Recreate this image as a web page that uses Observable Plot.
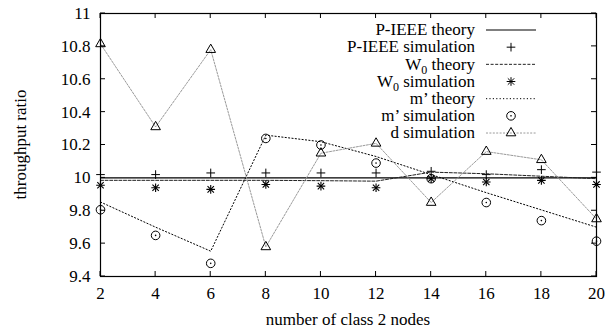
<!DOCTYPE html>
<html>
<head>
<meta charset="utf-8">
<script src="https://cdn.jsdelivr.net/npm/d3@7"></script>
<script src="https://cdn.jsdelivr.net/npm/@observablehq/plot@0.6"></script>
<style>
  html, body { margin: 0; padding: 0; background: white; }
  #chart { width: 614px; height: 333px; }
</style>
</head>
<body>
<div id="chart"></div>
<script>
// ---- data ----
const nodes = [2, 4, 6, 8, 10, 12, 14, 16, 18, 20];
const pieeeTheory = [10.0, 10.0, 10.0, 10.0, 10.0, 10.0, 10.0, 10.0, 10.0, 10.0];
const pieeeSim    = [10.02, 10.02, 10.03, 10.03, 10.03, 10.03, 10.04, 10.02, 10.05, 10.035];
const w0Theory    = [9.985, 9.985, 9.985, 9.985, 9.983, 9.98, 10.035, 10.025, 10.01, 9.995];
const w0Sim       = [9.955, 9.94, 9.93, 9.96, 9.95, 9.94, 9.995, 9.975, 9.985, 9.96];
const mTheory     = [9.853, 9.70, 9.554, 10.26, 10.22, 10.13, 10.02, 9.91, 9.805, 9.70];
const mSim        = [9.806, 9.65, 9.48, 10.24, 10.20, 10.09, 9.995, 9.85, 9.74, 9.615];
const dSim        = [10.815, 10.31, 10.78, 9.58, 10.15, 10.21, 9.85, 10.16, 10.11, 9.75];

const xTicks = [2, 4, 6, 8, 10, 12, 14, 16, 18, 20];
const yTicks = [9.4, 9.6, 9.8, 10, 10.2, 10.4, 10.6, 10.8, 11];
const xTitle = "number of class 2 nodes";
const yTitle = "throughput ratio";
const legendLabels = ["P-IEEE theory", "P-IEEE simulation", "W0 theory", "W0 simulation", "m’ theory", "m’ simulation", "d simulation"];

const rows = (ys) => nodes.map((x, i) => ({x, y: ys[i]}));

const FAM = "Liberation Serif";

const styles = {
  pieee: {stroke: "#000", strokeWidth: 1.2},
  w0: {stroke: "#222", strokeWidth: 1, strokeDasharray: "3,1.6"},
  m: {stroke: "#000", strokeWidth: 1, strokeDasharray: "1.2,2.2"},
  d: {stroke: "#9a9a9a", strokeWidth: 1, strokeDasharray: "2,1.4"}
};

const plot = Plot.plot({
  width: 614,
  height: 333,
  marginLeft: 100,
  marginRight: 18,
  marginTop: 13,
  marginBottom: 57,
  style: {fontSize: "17px", background: "white", color: "black"},
  x: {domain: [2, 20], ticks: xTicks, tickSize: 0, tickPadding: 10, label: null, tickFormat: d => String(d)},
  y: {domain: [9.4, 11], ticks: yTicks, tickSize: 0, tickPadding: 10, label: null, tickFormat: d => String(+d.toFixed(1))},
  marks: [
    Plot.line(rows(pieeeTheory), {x: "x", y: "y", ...styles.pieee}),
    Plot.dot(rows(pieeeSim), {x: "x", y: "y", symbol: "plus", r: 2.9, stroke: "#000", strokeWidth: 1}),
    Plot.line(rows(w0Theory), {x: "x", y: "y", ...styles.w0}),
    Plot.dot(rows(w0Sim), {x: "x", y: "y", symbol: "plus", r: 2.9, stroke: "#000", strokeWidth: 1.1}),
    Plot.dot(rows(w0Sim), {x: "x", y: "y", symbol: "times", r: 3.0, stroke: "#000", strokeWidth: 1.1}),
    Plot.line(rows(mTheory), {x: "x", y: "y", ...styles.m}),
    Plot.dot(rows(mSim), {x: "x", y: "y", symbol: "circle", r: 4.3, stroke: "#000", strokeWidth: 1, fill: "none"}),
    Plot.dot(rows(mSim), {x: "x", y: "y", symbol: "circle", r: 0.8, fill: "#000", stroke: "none"}),
    Plot.line(rows(dSim), {x: "x", y: "y", ...styles.d}),
    Plot.dot(rows(dSim), {x: "x", y: "y", symbol: "triangle2", r: 4.6, stroke: "#000", strokeWidth: 1, fill: "none"}),
    Plot.frame({stroke: "#000", strokeWidth: 1.2})
  ]
});

document.getElementById("chart").appendChild(plot);

// ---- inward ticks on all four sides, through the plot's scales ----
const sx = plot.scale("x"), sy = plot.scale("y");
const svg = d3.select(plot);
const x0 = sx.range[0], x1 = sx.range[1];
const y0 = sy.range[0], y1 = sy.range[1]; // y0 bottom, y1 top
const T = 5;
const tg = svg.append("g").attr("stroke", "#000").attr("stroke-width", 1);
xTicks.forEach(v => {
  const px = sx.apply(v);
  tg.append("line").attr("x1", px).attr("x2", px).attr("y1", y0).attr("y2", y0 - T);
  tg.append("line").attr("x1", px).attr("x2", px).attr("y1", y1).attr("y2", y1 + T);
});
yTicks.forEach(v => {
  const py = sy.apply(v);
  tg.append("line").attr("y1", py).attr("y2", py).attr("x1", x0).attr("x2", x0 + T);
  tg.append("line").attr("y1", py).attr("y2", py).attr("x1", x1).attr("x2", x1 - T);
});

// ---- axis titles ----
svg.append("text")
  .attr("x", (x0 + x1) / 2).attr("y", 325)
  .attr("text-anchor", "middle")
  .attr("font-size", 17).attr("fill", "#000")
  .text(xTitle);
svg.append("text")
  .attr("transform", `translate(26,${(y0 + y1) / 2}) rotate(-90)`)
  .attr("text-anchor", "middle")
  .attr("font-size", 17).attr("fill", "#000")
  .text(yTitle);

// ---- legend (top right inside the frame) ----
const lg = svg.append("g").attr("font-size", 17).attr("fill", "#000");
const textX = 475, lineX1 = 486, lineX2 = 536, symX = 511;
const base0 = 35.3, step = 17.17;
const sym = (type, r) => d3.symbol(type, Math.PI * r * r)();
legendLabels.forEach((lab, i) => {
  const by = base0 + i * step;
  const cy = by - 5.3;
  const t = lg.append("text").attr("x", textX).attr("y", by).attr("text-anchor", "end");
  if (lab.startsWith("W0")) {
    t.append("tspan").text("W");
    t.append("tspan").attr("font-size", 12).attr("dy", 4).text("0");
    t.append("tspan").attr("dy", -4).text(lab.slice(2));
  } else {
    t.text(lab);
  }
  const st = [styles.pieee, null, styles.w0, null, styles.m, null, styles.d][i];
  if (st) {
    const ln = lg.append("line").attr("x1", lineX1).attr("x2", lineX2).attr("y1", cy).attr("y2", cy)
      .attr("stroke", st.stroke).attr("stroke-width", st.strokeWidth);
    if (st.strokeDasharray) ln.attr("stroke-dasharray", st.strokeDasharray);
  }
  const g = lg.append("g").attr("transform", `translate(${symX},${cy})`).attr("fill", "none").attr("stroke", "#000").attr("stroke-width", 1);
  if (i === 1) g.append("path").attr("d", sym(d3.symbolPlus, 2.9));
  if (i === 3) { g.append("path").attr("d", sym(d3.symbolPlus, 2.9)); g.append("path").attr("d", sym(d3.symbolTimes, 3.0)); }
  if (i === 5) { g.append("path").attr("d", sym(d3.symbolCircle, 4.3)); g.append("circle").attr("r", 0.8).attr("fill", "#000").attr("stroke", "none"); }
  if (i === 6) g.append("path").attr("d", sym(d3.symbolTriangle2, 4.6));
});

// serif font on every text element directly
svg.attr("font-family", FAM);
svg.selectAll("text, tspan").attr("font-family", FAM);
</script>
</body>
</html>
